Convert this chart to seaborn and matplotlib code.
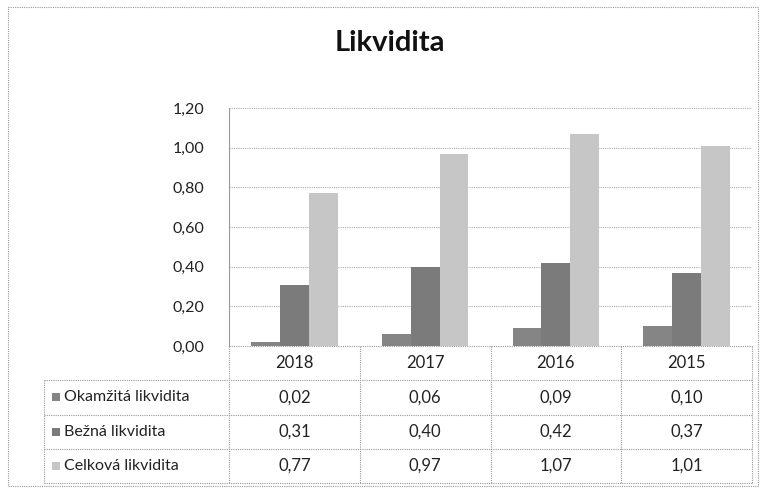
import pandas as pd
import matplotlib.pyplot as plt
import seaborn as sns
from matplotlib.patches import Rectangle
from matplotlib.lines import Line2D

# data
years = ["2018", "2017", "2016", "2015"]
series = ["Okamžitá likvidita", "Bežná likvidita", "Celková likvidita"]
okamzita = [0.02, 0.06, 0.09, 0.10]
bezna = [0.31, 0.40, 0.42, 0.37]
celkova = [0.77, 0.97, 1.07, 1.01]
colors = ["#858585", "#7b7b7b", "#c6c6c6"]

df = pd.DataFrame({"rok": years * 3,
                   "ukazatel": [s for s in series for _ in years],
                   "hodnota": okamzita + bezna + celkova})

W, H = 766, 488
sns.set_theme(style="white")
plt.rcParams["font.family"] = ["Lato", "DejaVu Sans"]
fig = plt.figure(figsize=(W / 100, H / 100), dpi=100)

# plot area in pixel terms
left, right, top, bottom = 229, 752, 108, 346
ax = fig.add_axes([left / W, 1 - bottom / H, (right - left) / W, (bottom - top) / H])
sns.barplot(data=df, x="rok", y="hodnota", hue="ukazatel", palette=colors,
            width=0.66, saturation=1, ax=ax, legend=False)
for p in ax.patches:
    p.set_edgecolor("none")
ax.set_xlim(-0.5, len(years) - 0.5)
ax.set_ylim(0, 1.2)
ax.set_yticks([i * 0.2 for i in range(7)])
ax.set_yticklabels([f"{i * 0.2:.2f}".replace(".", ",") for i in range(7)],
                   fontsize=11.5, color="#222222")
ax.tick_params(axis="y", pad=18, length=0)
ax.set_xticks([])
ax.set_xlabel("")
ax.set_ylabel("")
ax.yaxis.grid(True, linestyle=(0, (1, 1)), color="#aaaaaa", linewidth=0.8)
ax.set_axisbelow(True)
for s in ["top", "right", "bottom"]:
    ax.spines[s].set_visible(False)
ax.spines["left"].set_linestyle((0, (1, 1)))
ax.spines["left"].set_color("#999999")
ax.spines["left"].set_linewidth(0.8)

# overlay for title, frame and data table (pixel coordinates)
ov = fig.add_axes([0, 0, 1, 1], zorder=-1)
ov.set_xlim(0, W)
ov.set_ylim(H, 0)
ov.axis("off")
ov.patch.set_alpha(0)

dot = dict(color="#999999", linewidth=0.8, linestyle=(0, (1, 1)))
ov.add_patch(Rectangle((8, 7), 750, 479, fill=False, **dot))
ov.text(390, 43, "Likvidita", ha="center", va="center", fontsize=21,
        fontweight="bold", color="#111111")

tab_left = 44
col_w = (right - left) / len(years)
row_h = 34.3
rows_y = [bottom + i * row_h for i in range(5)]

# header row: years
for i, yr in enumerate(years):
    ov.text(left + (i + 0.5) * col_w, bottom + row_h / 2, yr, ha="center",
            va="center", fontsize=12, color="#222222")

# value rows
table_vals = [okamzita, bezna, celkova]
for r, (name, vals) in enumerate(zip(series, table_vals)):
    yc = rows_y[r + 1] + row_h / 2
    ov.add_patch(Rectangle((tab_left + 8, yc - 4), 8, 8, color=colors[r], lw=0))
    ov.text(tab_left + 20, yc, name, ha="left", va="center", fontsize=11.5,
            color="#222222")
    for i, v in enumerate(vals):
        ov.text(left + (i + 0.5) * col_w, yc, f"{v:.2f}".replace(".", ","),
                ha="center", va="center", fontsize=12, color="#222222")

# table grid lines
ov.add_line(Line2D([left, right], [rows_y[0], rows_y[0]], **dot))
for y in rows_y[1:]:
    ov.add_line(Line2D([tab_left, right], [y, y], **dot))
ov.add_line(Line2D([tab_left, tab_left], [rows_y[1], rows_y[-1]], **dot))
for i in range(len(years) + 1):
    x = left + i * col_w
    ov.add_line(Line2D([x, x], [rows_y[0], rows_y[-1]], **dot))

fig.savefig("out.png", dpi=100)
